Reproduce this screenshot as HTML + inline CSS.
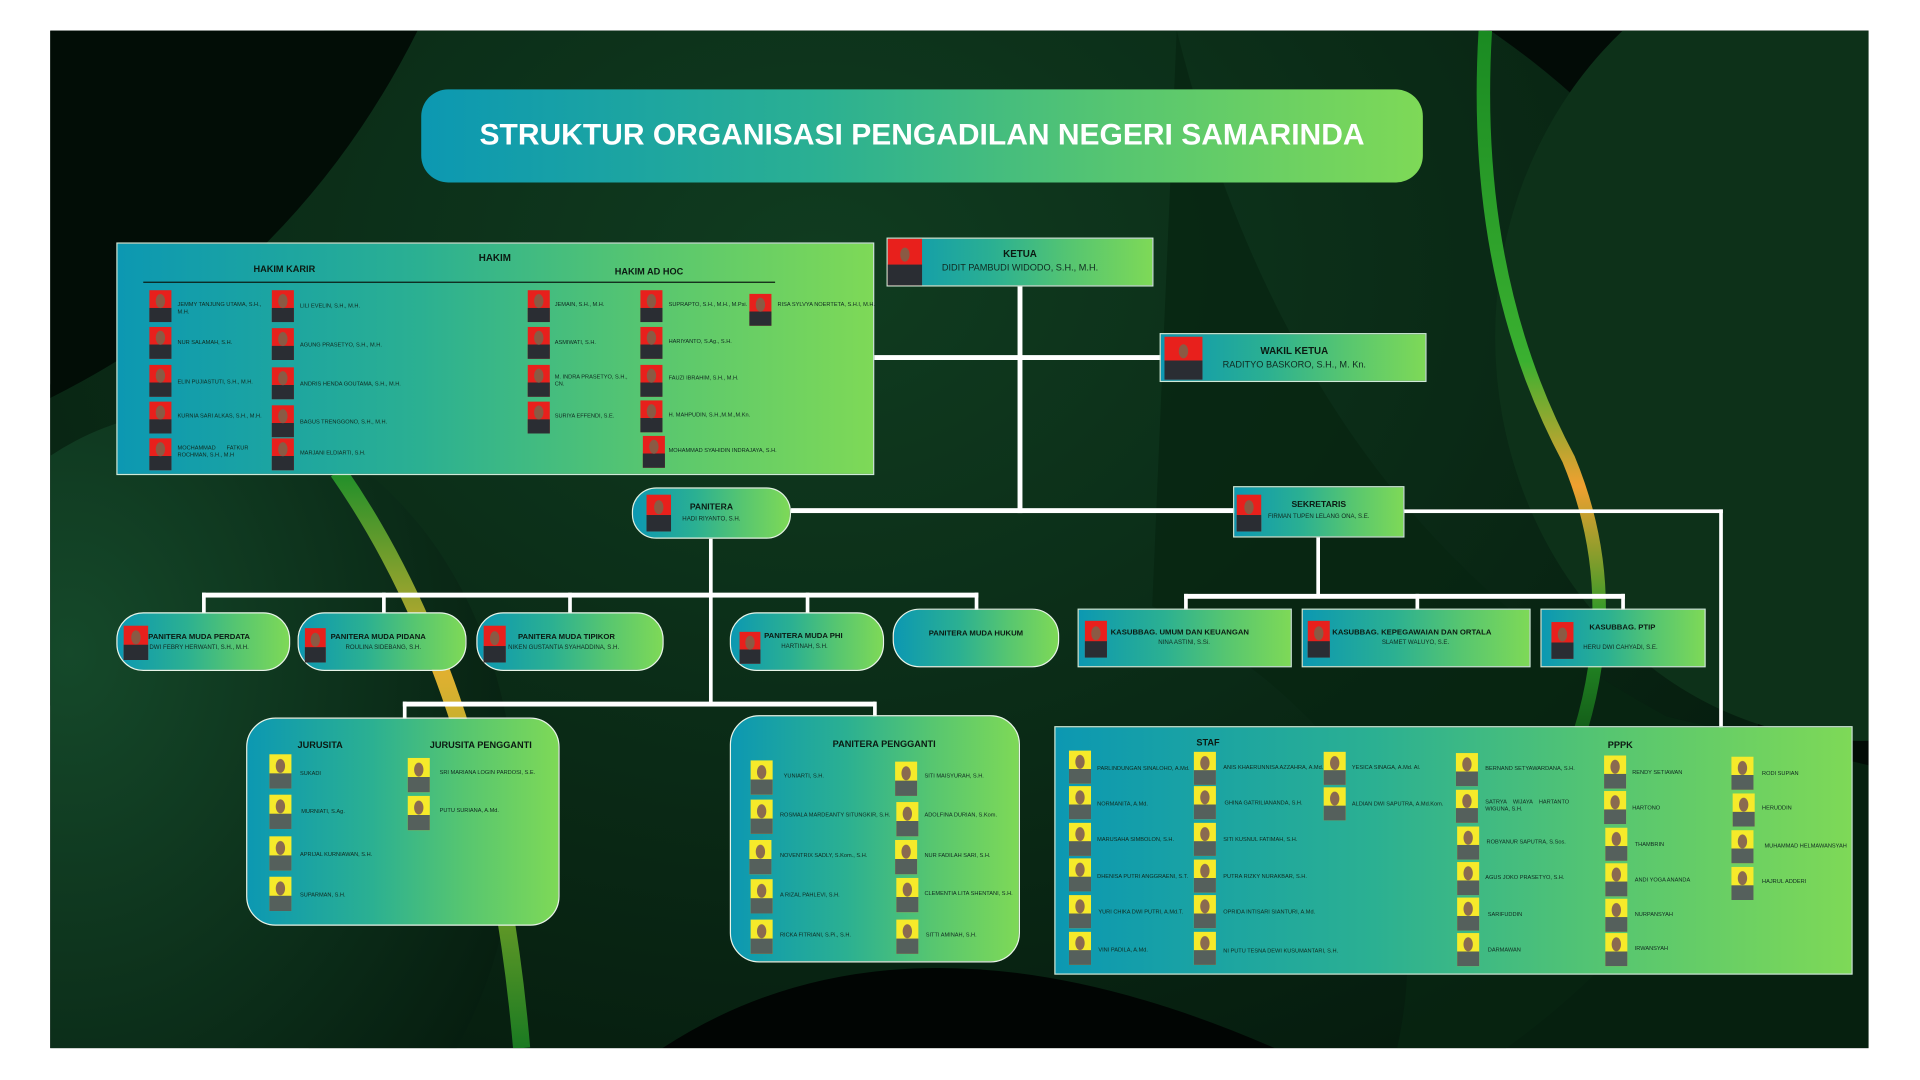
<!DOCTYPE html>
<html><head><meta charset="utf-8">
<style>
*{margin:0;padding:0;box-sizing:border-box}
html,body{width:1920px;height:1080px;overflow:hidden;background:#fff}
#w{position:absolute;left:0;top:0;width:1568px;height:881px;overflow:hidden;transform:scale(1.22449);transform-origin:0 0;font-family:"Liberation Sans",sans-serif}
.a{position:absolute}
.g{background:linear-gradient(90deg,#0c98b2 0%,#2bb092 40%,#57c670 70%,#7ed957 100%)}
.bx{position:absolute;border:1px solid #cfe9d8}
.ln{position:absolute;background:#fff}
.p{position:absolute;width:18px;height:26px}
.r{background:radial-gradient(ellipse 4px 6px at 50% 34%,#8a5a44 90%,transparent 100%),linear-gradient(180deg,transparent 55%,#2a2d33 56%),#e8201c}
.y{background:radial-gradient(ellipse 4px 6px at 50% 34%,#8a6a50 90%,transparent 100%),linear-gradient(180deg,transparent 55%,#55605c 56%),#f6ea2a}
.n{position:absolute;font-size:4.6px;color:#102a20;white-space:nowrap;line-height:6px}
.t{position:absolute;font-weight:bold;color:#0b1a12;white-space:nowrap}
</style></head><body><div id="w">
<div class="a" style="left:41px;top:25px;width:1485px;height:831px;overflow:hidden;background:#03110a">
<svg width="1485" height="831" style="position:absolute;left:0;top:0">
<defs>
<radialGradient id="g1" cx="0.45" cy="0.3" r="0.7"><stop offset="0" stop-color="#103c20"/><stop offset="1" stop-color="#051a0d"/></radialGradient>
<radialGradient id="g2" cx="0.3" cy="0.3" r="0.8"><stop offset="0" stop-color="#15492a"/><stop offset="1" stop-color="#061d0f"/></radialGradient>
<linearGradient id="sw" x1="0" y1="0" x2="0" y2="1"><stop offset="0" stop-color="#1f8f2a"/><stop offset="0.35" stop-color="#e0b030"/><stop offset="0.6" stop-color="#9ab02a"/><stop offset="1" stop-color="#1a7a22"/></linearGradient>
<linearGradient id="sw2" x1="0" y1="0" x2="0" y2="1"><stop offset="0" stop-color="#1a8a22"/><stop offset="0.45" stop-color="#3ab030"/><stop offset="0.62" stop-color="#f0a030"/><stop offset="0.8" stop-color="#2a9a28"/><stop offset="1" stop-color="#0c4a14"/></linearGradient>
</defs>
<rect width="1485" height="831" fill="#020b06"/>
<ellipse cx="700" cy="420" rx="720" ry="560" fill="url(#g1)"/>
<path d="M0 0 L300 0 Q200 200 0 300 Z" fill="#020d06"/>
<ellipse cx="120" cy="640" rx="260" ry="330" fill="url(#g2)"/>
<ellipse cx="1480" cy="250" rx="300" ry="330" fill="#0d3119"/>
<path d="M920 0 Q1020 400 1320 560 L1485 600 L1485 831 L1100 831 Q1150 600 900 470 Z" fill="#082512" opacity="0.8"/>
<path d="M500 831 Q700 700 1000 831 Z" fill="#010503"/>
<path d="M235 360 Q360 540 385 831" stroke="url(#sw)" stroke-width="14" fill="none"/>
<path d="M1172 0 Q1160 200 1240 350 Q1290 470 1240 600" stroke="url(#sw2)" stroke-width="11" fill="none"/>
</svg>
</div>

<div class="a g" style="left:344px;top:73px;width:818px;height:76px;border-radius:22px;color:#fff;font-weight:bold;font-size:24.5px;text-align:center;line-height:76px">STRUKTUR ORGANISASI PENGADILAN NEGERI SAMARINDA</div>

<div class="ln" style="left:831px;top:234px;width:4px;height:185px"></div>
<div class="ln" style="left:714px;top:290px;width:234px;height:4px"></div>
<div class="ln" style="left:646px;top:415px;width:362px;height:4px"></div>
<div class="ln" style="left:1147px;top:416px;width:260px;height:3px"></div>
<div class="ln" style="left:1404px;top:416px;width:3px;height:178px"></div>
<div class="ln" style="left:579px;top:440px;width:3px;height:136px"></div>
<div class="ln" style="left:165px;top:484px;width:634px;height:4px"></div>
<div class="ln" style="left:165px;top:484px;width:3px;height:18px"></div>
<div class="ln" style="left:312px;top:484px;width:3px;height:18px"></div>
<div class="ln" style="left:464px;top:484px;width:3px;height:18px"></div>
<div class="ln" style="left:658px;top:484px;width:3px;height:18px"></div>
<div class="ln" style="left:796px;top:484px;width:3px;height:15px"></div>
<div class="ln" style="left:329px;top:573px;width:386px;height:4px"></div>
<div class="ln" style="left:329px;top:573px;width:3px;height:14px"></div>
<div class="ln" style="left:713px;top:573px;width:3px;height:12px"></div>
<div class="ln" style="left:1075px;top:439px;width:3px;height:49px"></div>
<div class="ln" style="left:967px;top:485px;width:360px;height:4px"></div>
<div class="ln" style="left:967px;top:485px;width:3px;height:13px"></div>
<div class="ln" style="left:1156px;top:485px;width:3px;height:13px"></div>
<div class="ln" style="left:1324px;top:485px;width:3px;height:13px"></div>

<div class="bx g" style="left:95px;top:198px;width:619px;height:190px"></div>
<div class="t" style="left:391px;top:206px;font-size:8px">HAKIM</div>
<div class="t" style="left:207px;top:215px;font-size:7.5px">HAKIM KARIR</div>
<div class="t" style="left:502px;top:217px;font-size:7.5px">HAKIM AD HOC</div>
<div class="ln" style="left:117px;top:230px;width:516px;height:1px;background:#0b1a12"></div>
<div class="p r" style="left:122px;top:237px"></div><div class="n" style="left:145px;top:246px">JEMMY TANJUNG UTAMA, S.H.,<br>M.H.</div>
<div class="p r" style="left:122px;top:267px"></div><div class="n" style="left:145px;top:277px">NUR SALAMAH, S.H.</div>
<div class="p r" style="left:122px;top:298px"></div><div class="n" style="left:145px;top:309px">ELIN PUJIASTUTI, S.H., M.H.</div>
<div class="p r" style="left:122px;top:328px"></div><div class="n" style="left:145px;top:337px">KURNIA SARI ALKAS, S.H., M.H.</div>
<div class="p r" style="left:122px;top:358px"></div><div class="n" style="left:145px;top:363px">MOCHAMMAD &nbsp;&nbsp;&nbsp;&nbsp;&nbsp;&nbsp;FATKUR<br>ROCHMAN, S.H., M.H</div>
<div class="p r" style="left:222px;top:237px"></div><div class="n" style="left:245px;top:247px">LILI EVELIN, S.H., M.H.</div>
<div class="p r" style="left:222px;top:268px"></div><div class="n" style="left:245px;top:279px">AGUNG PRASETYO, S.H., M.H.</div>
<div class="p r" style="left:222px;top:300px"></div><div class="n" style="left:245px;top:311px">ANDRIS HENDA GOUTAMA, S.H., M.H.</div>
<div class="p r" style="left:222px;top:331px"></div><div class="n" style="left:245px;top:342px">BAGUS TRENGGONO, S.H., M.H.</div>
<div class="p r" style="left:222px;top:358px"></div><div class="n" style="left:245px;top:367px">MARJANI ELDIARTI, S.H.</div>
<div class="p r" style="left:431px;top:237px"></div><div class="n" style="left:453px;top:246px">JEMAIN, S.H., M.H.</div>
<div class="p r" style="left:431px;top:267px"></div><div class="n" style="left:453px;top:277px">ASMIWATI, S.H.</div>
<div class="p r" style="left:431px;top:298px"></div><div class="n" style="left:453px;top:305px">M. INDRA PRASETYO, S.H.,<br>CN.</div>
<div class="p r" style="left:431px;top:328px"></div><div class="n" style="left:453px;top:337px">SURIYA EFFENDI, S.E.</div>
<div class="p r" style="left:523px;top:237px"></div><div class="n" style="left:546px;top:246px">SUPRAPTO, S.H., M.H., M.Psi.</div>
<div class="p r" style="left:523px;top:267px"></div><div class="n" style="left:546px;top:276px">HARIYANTO, S.Ag., S.H.</div>
<div class="p r" style="left:523px;top:298px"></div><div class="n" style="left:546px;top:306px">FAUZI IBRAHIM, S.H., M.H.</div>
<div class="p r" style="left:523px;top:327px"></div><div class="n" style="left:546px;top:336px">H. MAHPUDIN, S.H.,M.M.,M.Kn.</div>
<div class="p r" style="left:525px;top:356px"></div><div class="n" style="left:546px;top:365px">MOHAMMAD SYAHIDIN INDRAJAYA, S.H.</div>
<div class="p r" style="left:612px;top:240px"></div><div class="n" style="left:635px;top:246px">RISA SYLVYA NOERTETA, S.H.I, M.H.</div>

<div class="bx g" style="left:724px;top:194px;width:218px;height:40px"></div>
<div class="p r" style="left:725px;top:195px;width:28px;height:38px"></div>
<div class="t" style="left:752px;top:203px;width:162px;text-align:center;font-size:8px">KETUA</div>
<div class="n" style="left:752px;top:214px;width:162px;text-align:center;font-size:7.5px;line-height:10px">DIDIT PAMBUDI WIDODO, S.H., M.H.</div>
<div class="bx g" style="left:947px;top:272px;width:218px;height:40px"></div>
<div class="p r" style="left:951px;top:275px;width:31px;height:35px"></div>
<div class="t" style="left:982px;top:282px;width:150px;text-align:center;font-size:8px">WAKIL KETUA</div>
<div class="n" style="left:982px;top:293px;width:150px;text-align:center;font-size:7.5px;line-height:10px">RADITYO BASKORO, S.H., M. Kn.</div>

<div class="bx g" style="left:516px;top:398px;width:130px;height:42px;border-radius:20px;border-color:#e0f0e0"></div>
<div class="p r" style="left:528px;top:404px;width:20px;height:30px"></div>
<div class="t" style="left:550px;top:411px;width:62px;text-align:center;font-size:7px">PANITERA</div>
<div class="n" style="left:550px;top:421px;width:62px;text-align:center;font-size:5px">HADI RIYANTO, S.H.</div>
<div class="bx g" style="left:1007px;top:397px;width:140px;height:42px"></div>
<div class="p r" style="left:1010px;top:404px;width:20px;height:30px"></div>
<div class="t" style="left:1030px;top:409px;width:94px;text-align:center;font-size:7px">SEKRETARIS</div>
<div class="n" style="left:1030px;top:419px;width:94px;text-align:center;font-size:5px">FIRMAN TUPEN LELANG ONA, S.E.</div>

<div class="bx g" style="left:95px;top:500px;width:142px;height:48px;border-radius:22px;border-color:#e8f4e8"></div>
<div class="p r" style="left:101px;top:511px;width:20px;height:28px"></div>
<div class="t" style="left:121px;top:517px;font-size:6.3px">PANITERA MUDA PERDATA</div>
<div class="n" style="left:122px;top:526px;font-size:5px">DWI FEBRY HERWANTI, S.H., M.H.</div>
<div class="bx g" style="left:243px;top:500px;width:138px;height:48px;border-radius:22px;border-color:#e8f4e8"></div>
<div class="p r" style="left:249px;top:513px;width:17px;height:28px"></div>
<div class="t" style="left:270px;top:517px;font-size:6.3px">PANITERA MUDA PIDANA</div>
<div class="n" style="left:270px;top:526px;width:86px;text-align:center;font-size:5px">ROULINA SIDEBANG, S.H.</div>
<div class="bx g" style="left:389px;top:500px;width:153px;height:48px;border-radius:22px;border-color:#e8f4e8"></div>
<div class="p r" style="left:395px;top:511px;width:18px;height:30px"></div>
<div class="t" style="left:423px;top:517px;font-size:6.3px">PANITERA MUDA TIPIKOR</div>
<div class="n" style="left:415px;top:526px;font-size:5px">NIKEN GUSTANTIA SYAHADDINA, S.H.</div>
<div class="bx g" style="left:596px;top:500px;width:126px;height:48px;border-radius:22px;border-color:#e8f4e8"></div>
<div class="p r" style="left:604px;top:516px;width:17px;height:26px"></div>
<div class="t" style="left:624px;top:516px;font-size:6.3px">PANITERA MUDA PHI</div>
<div class="n" style="left:638px;top:525px;font-size:5px">HARTINAH, S.H.</div>
<div class="bx g" style="left:729px;top:497px;width:136px;height:48px;border-radius:22px;border-color:#e8f4e8"></div>
<div class="t" style="left:729px;top:514px;width:136px;text-align:center;font-size:6.3px">PANITERA MUDA HUKUM</div>

<div class="bx g" style="left:880px;top:497px;width:175px;height:48px"></div>
<div class="p r" style="left:886px;top:507px;width:18px;height:30px"></div>
<div class="t" style="left:907px;top:513px;font-size:6.3px">KASUBBAG. UMUM DAN KEUANGAN</div>
<div class="n" style="left:907px;top:522px;width:120px;text-align:center;font-size:5px">NINA ASTINI, S.Si.</div>
<div class="bx g" style="left:1063px;top:497px;width:187px;height:48px"></div>
<div class="p r" style="left:1068px;top:507px;width:18px;height:30px"></div>
<div class="t" style="left:1088px;top:513px;font-size:6.3px">KASUBBAG. KEPEGAWAIAN DAN ORTALA</div>
<div class="n" style="left:1088px;top:522px;width:136px;text-align:center;font-size:5px">SLAMET WALUYO, S.E.</div>
<div class="bx g" style="left:1258px;top:497px;width:135px;height:48px"></div>
<div class="p r" style="left:1267px;top:508px;width:18px;height:30px"></div>
<div class="t" style="left:1298px;top:509px;font-size:6.3px">KASUBBAG. PTIP</div>
<div class="n" style="left:1293px;top:526px;font-size:5px">HERU DWI CAHYADI, S.E.</div>

<div class="bx g" style="left:201px;top:586px;width:256px;height:170px;border-radius:24px;border-color:#e8f4e8"></div>
<div class="t" style="left:243px;top:604px;font-size:7.5px">JURUSITA</div>
<div class="t" style="left:351px;top:604px;font-size:7.5px">JURUSITA PENGGANTI</div>
<div class="p y" style="left:220px;top:616px;width:18px;height:28px"></div><div class="n" style="left:245px;top:629px">SUKADI</div>
<div class="p y" style="left:220px;top:649px;width:18px;height:28px"></div><div class="n" style="left:246px;top:660px">MURNIATI, S.Ag.</div>
<div class="p y" style="left:220px;top:683px;width:18px;height:28px"></div><div class="n" style="left:245px;top:695px">APRIJAL KURNIAWAN, S.H.</div>
<div class="p y" style="left:220px;top:716px;width:18px;height:28px"></div><div class="n" style="left:245px;top:728px">SUPARMAN, S.H.</div>
<div class="p y" style="left:333px;top:619px;width:18px;height:28px"></div><div class="n" style="left:359px;top:628px">SRI MARIANA LOGIN PARDOSI, S.E.</div>
<div class="p y" style="left:333px;top:650px;width:18px;height:28px"></div><div class="n" style="left:359px;top:659px">PUTU SURIANA, A.Md.</div>

<div class="bx g" style="left:596px;top:584px;width:237px;height:202px;border-radius:24px;border-color:#e8f4e8"></div>
<div class="t" style="left:680px;top:603px;font-size:7.5px">PANITERA PENGGANTI</div>
<div class="p y" style="left:613px;top:621px;width:18px;height:28px"></div><div class="n" style="left:640px;top:631px">YUNIARTI, S.H.</div>
<div class="p y" style="left:613px;top:653px;width:18px;height:28px"></div><div class="n" style="left:637px;top:663px">ROSMALA MARDEANTY SITUNGKIR, S.H.</div>
<div class="p y" style="left:612px;top:686px;width:18px;height:28px"></div><div class="n" style="left:637px;top:696px">NOVENTRIX SADLY, S.Kom., S.H.</div>
<div class="p y" style="left:613px;top:718px;width:18px;height:28px"></div><div class="n" style="left:637px;top:728px">A RIZAL PAHLEVI, S.H.</div>
<div class="p y" style="left:613px;top:751px;width:18px;height:28px"></div><div class="n" style="left:637px;top:761px">RICKA FITRIANI, S.Pi., S.H.</div>
<div class="p y" style="left:731px;top:622px;width:18px;height:28px"></div><div class="n" style="left:755px;top:631px">SITI MAISYURAH, S.H.</div>
<div class="p y" style="left:732px;top:655px;width:18px;height:28px"></div><div class="n" style="left:755px;top:663px">ADOLFINA DURIAN, S.Kom.</div>
<div class="p y" style="left:731px;top:686px;width:18px;height:28px"></div><div class="n" style="left:755px;top:696px">NUR FADILAH SARI, S.H.</div>
<div class="p y" style="left:732px;top:717px;width:18px;height:28px"></div><div class="n" style="left:755px;top:727px">CLEMENTIA LITA SHENTANI, S.H.</div>
<div class="p y" style="left:732px;top:751px;width:18px;height:28px"></div><div class="n" style="left:756px;top:761px">SITTI AMINAH, S.H.</div>

<div class="bx g" style="left:861px;top:593px;width:652px;height:203px"></div>
<div class="t" style="left:977px;top:602px;font-size:7.5px">STAF</div>
<div class="t" style="left:1313px;top:604px;font-size:7.5px">PPPK</div>
<div class="p y" style="left:873px;top:613px;width:18px;height:27px"></div><div class="n" style="left:896px;top:625px">PARLINDUNGAN SINALOHO, A.Md.</div>
<div class="p y" style="left:873px;top:642px;width:18px;height:27px"></div><div class="n" style="left:896px;top:654px">NORMANITA, A.Md.</div>
<div class="p y" style="left:873px;top:672px;width:18px;height:27px"></div><div class="n" style="left:896px;top:683px">MARUSAHA SIMBOLON, S.H.</div>
<div class="p y" style="left:873px;top:701px;width:18px;height:27px"></div><div class="n" style="left:896px;top:713px">DHENISA PUTRI ANGGRAENI, S.T.</div>
<div class="p y" style="left:873px;top:731px;width:18px;height:27px"></div><div class="n" style="left:897px;top:742px">YURI CHIKA DWI PUTRI, A.Md.T.</div>
<div class="p y" style="left:873px;top:761px;width:18px;height:27px"></div><div class="n" style="left:897px;top:773px">VINI PADILA, A.Md.</div>
<div class="p y" style="left:975px;top:614px;width:18px;height:27px"></div><div class="n" style="left:999px;top:624px">ANIS KHAERUNNISA AZZAHRA, A.Md.</div>
<div class="p y" style="left:975px;top:642px;width:18px;height:27px"></div><div class="n" style="left:1000px;top:653px">GHINA GATRILIANANDA, S.H.</div>
<div class="p y" style="left:975px;top:672px;width:18px;height:27px"></div><div class="n" style="left:999px;top:683px">SITI KUSNUL FATIMAH, S.H.</div>
<div class="p y" style="left:975px;top:702px;width:18px;height:27px"></div><div class="n" style="left:999px;top:713px">PUTRA RIZKY NURAKBAR, S.H.</div>
<div class="p y" style="left:975px;top:731px;width:18px;height:27px"></div><div class="n" style="left:999px;top:742px">OPRIDA INTISARI SIANTURI, A.Md.</div>
<div class="p y" style="left:975px;top:761px;width:18px;height:27px"></div><div class="n" style="left:999px;top:774px">NI PUTU TESNA DEWI KUSUMANTARI, S.H.</div>
<div class="p y" style="left:1081px;top:614px;width:18px;height:27px"></div><div class="n" style="left:1104px;top:624px">YESICA SINAGA, A.Md. Al.</div>
<div class="p y" style="left:1081px;top:643px;width:18px;height:27px"></div><div class="n" style="left:1104px;top:654px">ALDIAN DWI SAPUTRA, A.Md.Kom.</div>
<div class="p y" style="left:1189px;top:615px;width:18px;height:27px"></div><div class="n" style="left:1213px;top:625px">BERNAND SETYAWARDANA, S.H.</div>
<div class="p y" style="left:1189px;top:645px;width:18px;height:27px"></div><div class="n" style="left:1213px;top:652px">SATRYA &nbsp;&nbsp;&nbsp;WIJAYA &nbsp;&nbsp;&nbsp;HARTANTO<br>WIGUNA, S.H.</div>
<div class="p y" style="left:1190px;top:675px;width:18px;height:27px"></div><div class="n" style="left:1214px;top:685px">ROBYANUR SAPUTRA, S.Sos.</div>
<div class="p y" style="left:1190px;top:704px;width:18px;height:27px"></div><div class="n" style="left:1213px;top:714px">AGUS JOKO PRASETYO, S.H.</div>
<div class="p y" style="left:1190px;top:733px;width:18px;height:27px"></div><div class="n" style="left:1215px;top:744px">SARIFUDDIN</div>
<div class="p y" style="left:1190px;top:762px;width:18px;height:27px"></div><div class="n" style="left:1215px;top:773px">DARMAWAN</div>
<div class="p y" style="left:1310px;top:617px;width:18px;height:27px"></div><div class="n" style="left:1333px;top:628px">RENDY SETIAWAN</div>
<div class="p y" style="left:1310px;top:646px;width:18px;height:27px"></div><div class="n" style="left:1333px;top:657px">HARTONO</div>
<div class="p y" style="left:1311px;top:676px;width:18px;height:27px"></div><div class="n" style="left:1335px;top:687px">THAMBRIN</div>
<div class="p y" style="left:1311px;top:705px;width:18px;height:27px"></div><div class="n" style="left:1335px;top:716px">ANDI YOGA ANANDA</div>
<div class="p y" style="left:1311px;top:734px;width:18px;height:27px"></div><div class="n" style="left:1335px;top:744px">NURPANSYAH</div>
<div class="p y" style="left:1311px;top:762px;width:18px;height:27px"></div><div class="n" style="left:1335px;top:772px">IRWANSYAH</div>
<div class="p y" style="left:1414px;top:618px;width:18px;height:27px"></div><div class="n" style="left:1439px;top:629px">RODI SUPIAN</div>
<div class="p y" style="left:1415px;top:648px;width:18px;height:27px"></div><div class="n" style="left:1439px;top:657px">HERUDDIN</div>
<div class="p y" style="left:1414px;top:678px;width:18px;height:27px"></div><div class="n" style="left:1441px;top:688px">MUHAMMAD HELMAWANSYAH</div>
<div class="p y" style="left:1414px;top:708px;width:18px;height:27px"></div><div class="n" style="left:1439px;top:717px">HAJRUL ADDERI</div>
</div></body></html>
